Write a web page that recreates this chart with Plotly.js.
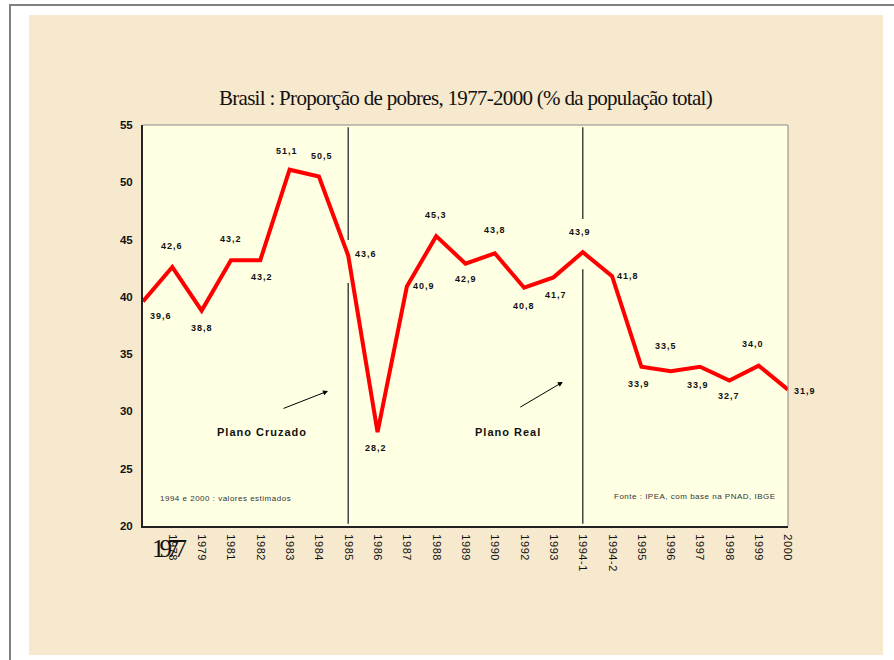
<!DOCTYPE html>
<html>
<head>
<meta charset="utf-8">
<script src="https://cdn.plot.ly/plotly-3.0.1.min.js"></script>
<style>
  body { margin: 0; background: #fff; }
  #frame { position: absolute; left: 9px; top: 4px; width: 885px; height: 656px;
           border-left: 2px solid #808080; border-top: 2px solid #808080; }
  #paper { position: absolute; left: 29px; top: 15px; width: 854px; height: 640px; background: #F7E9CD; }
  #chart { position: absolute; left: 0; top: 0; width: 894px; height: 660px; }
  .annotation-text { letter-spacing: 1px; }
  .gtitle { letter-spacing: -0.7px; }
  .xtick text { letter-spacing: 0.6px; }
</style>
</head>
<body>
<div id="frame"></div>
<div id="paper"></div>
<div id="chart"></div>
<script>
// categorias (anos) e proporção de pobres (%)
let anos = ["1977","1978","1979","1981","1982","1983","1984","1985","1986","1987","1988","1989",
            "1990","1992","1993","1994-1","1994-2","1995","1996","1997","1998","1999","2000"];
let pobres = [39.6, 42.6, 38.8, 43.2, 43.2, 51.1, 50.5, 43.6, 28.2, 40.9, 45.3, 42.9,
              43.8, 40.8, 41.7, 43.9, 41.8, 33.9, 33.5, 33.9, 32.7, 34.0, 31.9];
let rotulos = pobres.map(v => v.toFixed(1).replace(".", ","));
let tickTexto = anos.map((a, i) => i === 0 ? "" : a);

// deslocamento dos rotulos de dados (px), so estilo
let dx = [18, 0, 0, 0, 2, -3, 3, 18, -2, 17, 0, 0, 0, 0, 3, -3, 16, -2, -5, -2, 0, -6, 17];
let dy = [-15, 21, -17, 21, -17, 19, 21, 2, -16, 1, 21, -15, 23, -18, -18, 20, 0, -17, 25, -18, -16, 22, -1];

let iCruzado = anos.indexOf("1985");
let iReal = anos.indexOf("1994-1");

let trace = {
  x: anos,
  y: pobres,
  type: "scatter",
  mode: "lines",
  line: { color: "#FF0000", width: 4 },
  hoverinfo: "skip"
};

// x como indice da categoria (strings tipo "1985" viram numero nas anotacoes)
let annots = anos.map((a, i) => ({
  x: i, y: pobres[i], xref: "x", yref: "y",
  text: rotulos[i], showarrow: false,
  xshift: dx[i], yshift: dy[i],
  font: { family: "Arial, 'Liberation Sans'", size: 9, color: "#111", weight: "bold" }
}));

annots.push(
  { x: 6.31, y: 31.78, ax: -46, ay: 18, xref: "x", yref: "y", text: "", showarrow: true,
    arrowhead: 2, arrowsize: 1, arrowwidth: 1, arrowcolor: "#000" },
  { x: 14.32, y: 32.57, ax: -44, ay: 26, xref: "x", yref: "y", text: "", showarrow: true,
    arrowhead: 2, arrowsize: 1, arrowwidth: 1, arrowcolor: "#000" },
  { x: 4.06, y: 28.2, xref: "x", yref: "y", text: "Plano Cruzado", showarrow: false,
    font: { family: "Arial, 'Liberation Sans'", size: 11, color: "#111", weight: "bold" } },
  { x: 12.45, y: 28.2, xref: "x", yref: "y", text: "Plano Real", showarrow: false,
    font: { family: "Arial, 'Liberation Sans'", size: 11, color: "#111", weight: "bold" } },
  { x: 0.51, y: 22.36, xref: "x", yref: "y", xanchor: "left", align: "left",
    text: "1994 e 2000 : valores estimados",
    showarrow: false, font: { family: "Arial, 'Liberation Sans'", size: 8, color: "#333" } },
  { x: 16.0, y: 22.6, xref: "x", yref: "y", xanchor: "left", align: "left",
    text: "Fonte : IPEA, com base na PNAD, IBGE",
    showarrow: false, font: { family: "Arial, 'Liberation Sans'", size: 8, color: "#333" } },
  { x: 0.82, y: -0.055, xref: "x", yref: "paper", yanchor: "middle", text: anos[0], showarrow: false,
    font: { family: "'Liberation Serif', 'Times New Roman'", size: 25, color: "#111" } }
);

let vline = (x, y0, y1) => ({ type: "line", xref: "x", yref: "y", x0: x, x1: x, y0: y0, y1: y1,
                              line: { color: "#444", width: 1.5 } });

let layout = {
  width: 894, height: 660,
  margin: { l: 143, r: 106, t: 125, b: 134 },
  paper_bgcolor: "rgba(0,0,0,0)",
  plot_bgcolor: "#FFFFE4",
  showlegend: false,
  title: {
    text: "Brasil : Proporção de pobres, 1977-2000 (% da população total)",
    font: { family: "'Liberation Serif', 'Times New Roman'", size: 21, color: "#111" },
    x: 0.5, xref: "paper", y: 1 - 98 / 660, yref: "container", yanchor: "middle"
  },
  xaxis: {
    type: "category",
    range: [0, 22],
    tickvals: anos, ticktext: tickTexto,
    tickangle: 90, ticks: "", showgrid: false, zeroline: false,
    showline: true, linecolor: "#222", linewidth: 2,
    ticklabelstandoff: 4,
    tickfont: { family: "Arial, 'Liberation Sans'", size: 11, color: "#111" }
  },
  yaxis: {
    range: [20, 55], dtick: 5, ticks: "", showgrid: false, zeroline: false,
    showline: true, linecolor: "#222", linewidth: 2,
    ticklabelstandoff: 6,
    tickfont: { family: "Arial, 'Liberation Sans'", size: 11.5, color: "#111", weight: "bold" }
  },
  shapes: [
    { type: "line", xref: "paper", yref: "paper", x0: 0, x1: 1, y0: 1, y1: 1, line: { color: "#888", width: 1 } },
    { type: "line", xref: "paper", yref: "paper", x0: 1, x1: 1, y0: 0, y1: 1, line: { color: "#888", width: 1 } },
    vline(iCruzado, 20.2, 41.2), vline(iCruzado, 44.96, 54.8),
    vline(iReal, 20.2, 42.4), vline(iReal, 46.8, 54.8)
  ],
  annotations: annots
};

Plotly.newPlot("chart", [trace], layout, { staticPlot: true }).then(gd => {
  gd.querySelectorAll(".annotation-text").forEach(t => {
    if (t.textContent === anos[0]) t.style.letterSpacing = "-5px";
    if (t.textContent.startsWith("1994 e") || t.textContent.startsWith("Fonte")) t.style.letterSpacing = "0.5px";
  });
});
</script>
</body>
</html>
